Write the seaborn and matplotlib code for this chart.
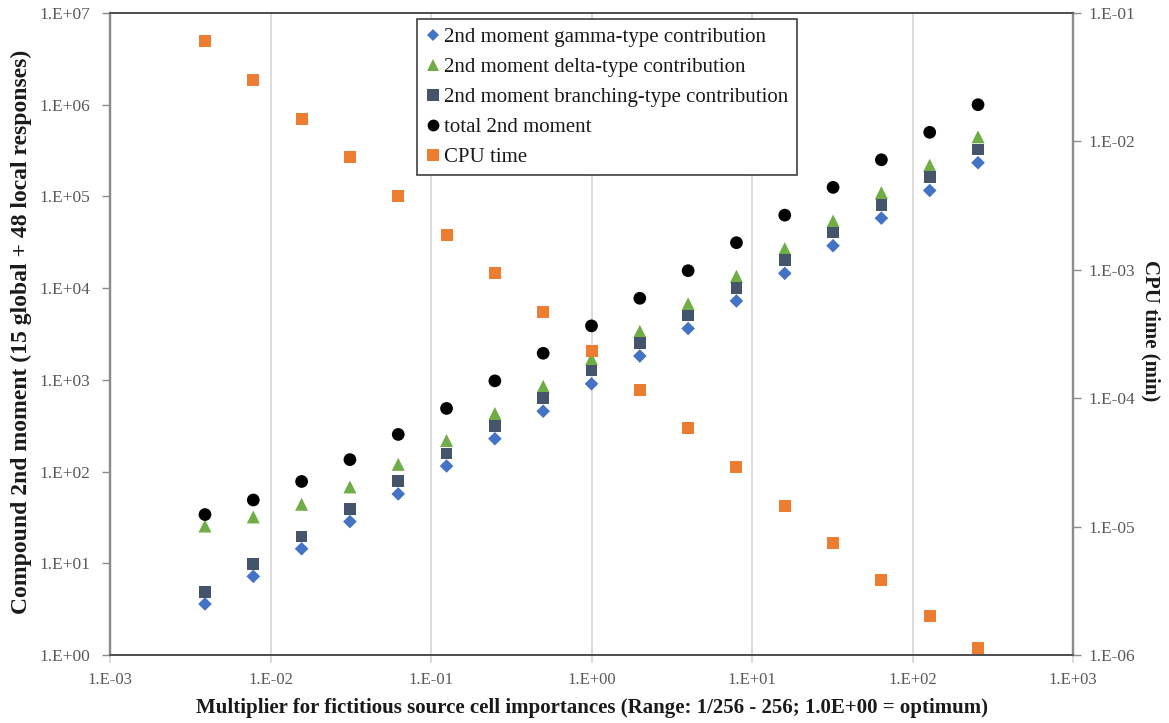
import numpy as np
import pandas as pd
import matplotlib
matplotlib.use("Agg")
import matplotlib.pyplot as plt
import seaborn as sns
from matplotlib.ticker import FixedLocator, FuncFormatter, NullLocator
from matplotlib.lines import Line2D

# Importance multiplier for the fictitious source cells (1/256 ... 256)
multiplier = [1/256, 1/128, 1/64, 1/32, 1/16, 1/8, 1/4, 1/2, 1,
              2, 4, 8, 16, 32, 64, 128, 256]

# Second-moment contributions (left axis)
gamma = [3.6, 7.2, 14.4, 28.5, 57, 115, 228, 455, 905,
         1820, 3630, 7250, 14500, 29000, 58000, 116000, 233000]
delta = [25.5, 32, 44, 68, 120, 218, 430, 850, 1690,
         3380, 6750, 13500, 27000, 54000, 110000, 219000, 447000]
branching = [4.9, 9.8, 19.6, 39, 79, 158, 315, 630, 1260,
             2530, 5050, 10100, 20200, 40400, 81000, 162000, 325000]
total = [34, 49, 78, 135, 254, 488, 975, 1950, 3880,
         7750, 15500, 31300, 62500, 125500, 251000, 500000, 1000000]

# CPU time in minutes (right axis)
cpu_time = [0.0605, 0.0301, 0.0149, 0.00757, 0.00376, 0.00187, 0.000944,
            0.000469, 0.000233, 0.000116, 5.86e-5, 2.91e-5, 1.45e-5,
            7.45e-6, 3.84e-6, 2.01e-6, 1.14e-6]

series_names = ["2nd moment gamma-type contribution",
                "2nd moment delta-type contribution",
                "2nd moment branching-type contribution",
                "total 2nd moment"]
cpu_name = "CPU time"

x_ticks = [1e-3, 1e-2, 1e-1, 1e0, 1e1, 1e2, 1e3]
y_ticks = [1e0, 1e1, 1e2, 1e3, 1e4, 1e5, 1e6, 1e7]
y2_ticks = [1e-6, 1e-5, 1e-4, 1e-3, 1e-2, 1e-1]

colors = {series_names[0]: "#4472C4", series_names[1]: "#70AD47",
          series_names[2]: "#44546A", series_names[3]: "#000000"}
markers = {series_names[0]: "D", series_names[1]: "^",
           series_names[2]: "s", series_names[3]: "o"}
sizes = {series_names[0]: 48, series_names[1]: 88,
         series_names[2]: 70, series_names[3]: 84}
cpu_color = "#ED7D31"

moments = pd.DataFrame({
    "multiplier": multiplier * 4,
    "value": gamma + delta + branching + total,
    "series": np.repeat(series_names, len(multiplier)),
})
cpu = pd.DataFrame({"multiplier": multiplier, "cpu": cpu_time})

sns.set_theme(style="white")
plt.rcParams["font.family"] = ["Liberation Serif", "DejaVu Serif"]

fig = plt.figure(figsize=(11.69, 7.23), dpi=100)
ax = fig.add_axes([110 / 1169, 1 - 655 / 723, 963 / 1169, 642 / 723])
ax2 = ax.twinx()

sns.scatterplot(data=moments, x="multiplier", y="value", hue="series",
                style="series", size="series", palette=colors,
                markers=markers, sizes=sizes, linewidth=0,
                legend=False, ax=ax, zorder=3)
sns.scatterplot(data=cpu, x="multiplier", y="cpu", color=cpu_color,
                marker="s", s=76, linewidth=0, legend=False, ax=ax2,
                zorder=3)

fmt = FuncFormatter(lambda v, p: "1.E{:+03d}".format(int(round(np.log10(v)))))

for a in (ax, ax2):
    a.set_xscale("log")
    a.set_yscale("log")
    a.set_xlim(1e-3, 1e3)
    a.xaxis.set_major_locator(FixedLocator(x_ticks))
    a.xaxis.set_minor_locator(NullLocator())
    a.yaxis.set_minor_locator(NullLocator())
    a.xaxis.set_major_formatter(fmt)

ax.set_ylim(1e0, 1e7)
ax.yaxis.set_major_locator(FixedLocator(y_ticks))
ax.yaxis.set_major_formatter(fmt)
ax2.set_ylim(1e-6, 1e-1)
ax2.yaxis.set_major_locator(FixedLocator(y2_ticks))
ax2.yaxis.set_major_formatter(fmt)

ax.set_axisbelow(True)
ax.xaxis.grid(True, color="#d9d9d9", linewidth=1.3)
ax.yaxis.grid(False)
ax2.grid(False)

axis_gray = "#8c8c8c"
for a in (ax, ax2):
    for side in ("left", "right"):
        a.spines[side].set_color(axis_gray)
        a.spines[side].set_linewidth(1.6)
    for side in ("top", "bottom"):
        a.spines[side].set_color("#4d4d4d")
        a.spines[side].set_linewidth(1.2)

ax.tick_params(axis="y", which="major", direction="out", length=6,
               width=1, color=axis_gray, labelsize=12.5, labelcolor="#595959",
               pad=8, left=True)
ax.tick_params(axis="x", which="major", direction="out", length=6,
               width=1.3, color="#d9d9d9", labelsize=12, labelcolor="#595959",
               pad=6, bottom=True)
ax2.tick_params(axis="y", which="major", direction="out", length=6,
                width=1, color=axis_gray, labelsize=12.5, labelcolor="#595959",
                pad=5, right=True)
ax2.tick_params(axis="x", which="both", bottom=False, top=False,
                labelbottom=False)

label_style = dict(fontweight="bold", color="#1a1a1a")
ax.set_xlabel("Multiplier for fictitious source cell importances "
              "(Range: 1/256 - 256; 1.0E+00 = optimum)", fontsize=15,
              **label_style)
ax.set_ylabel("Compound 2nd moment (15 global + 48 local responses)",
              fontsize=17, **label_style)
ax2.set_ylabel("CPU time (min)", rotation=270, va="center", fontsize=15,
               **label_style)
ax.xaxis.set_label_coords(0.5, -0.067)
ax.yaxis.set_label_coords(-0.081, 0.504)
ax2.yaxis.set_label_coords(1.081, 0.505)

handles = [Line2D([], [], linestyle="none", marker=markers[n],
                  markerfacecolor=colors[n], markeredgewidth=0,
                  markersize={"D": 6, "^": 9, "s": 8.5, "o": 8.5}[markers[n]])
           for n in series_names]
handles.append(Line2D([], [], linestyle="none", marker="s",
                      markerfacecolor=cpu_color, markeredgewidth=0,
                      markersize=8.5))
leg = ax2.legend(handles, series_names + [cpu_name],
                 loc="upper left", bbox_to_anchor=(417 / 1169, 1 - 19 / 723),
                 bbox_transform=fig.transFigure, borderaxespad=0,
                 fontsize=15, frameon=True, fancybox=False, framealpha=1,
                 edgecolor="#404040", handlelength=0.7, handletextpad=0.2,
                 labelspacing=0.5, borderpad=0.4)
leg.get_frame().set_linewidth(1.2)
for t in leg.get_texts():
    t.set_color("#1a1a1a")

fig.savefig("out.png", dpi=100, facecolor="white")
